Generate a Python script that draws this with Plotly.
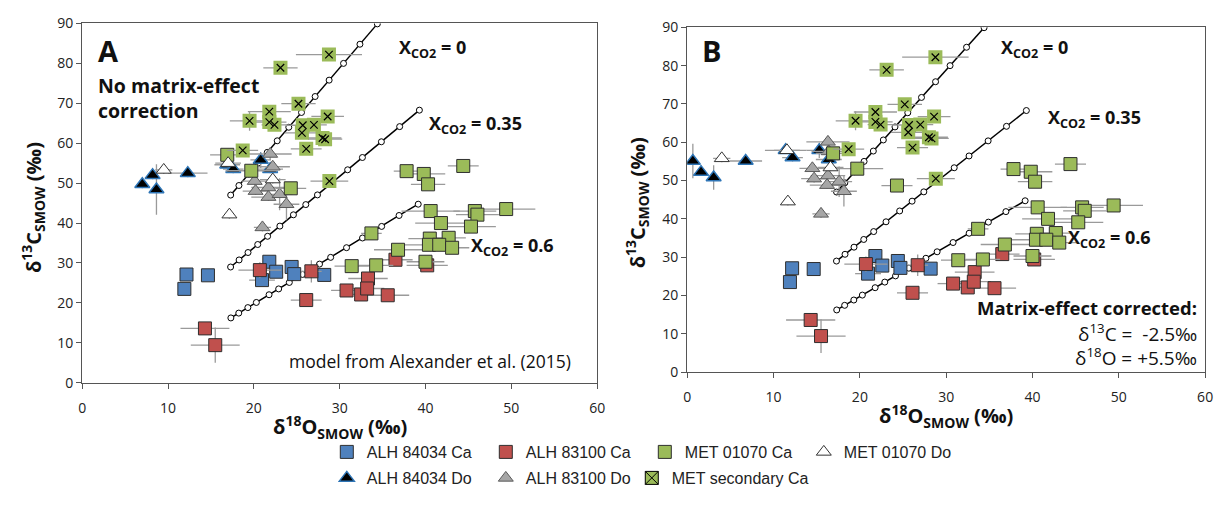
import plotly.graph_objects as go

W, H = 1225, 513

# ---------------- model curves (Alexander et al. 2015) ----------------
m0_x = [17.3, 18.26, 19.41, 20.49, 21.56, 22.72, 24.07, 25.55, 27.14, 28.77, 30.45, 32.36, 34.39]
m0_y = [47.0, 49.4, 52.3, 55.0, 57.7, 60.6, 64.0, 67.7, 71.7, 75.8, 80.0, 84.8, 89.9]
m35_x = [17.29, 18.28, 19.32, 20.45, 21.60, 23.03, 24.61, 26.05, 27.41, 29.13, 30.93, 32.65, 34.86, 36.99, 39.29]
m35_y = [28.98, 30.75, 32.61, 34.62, 36.68, 39.23, 42.06, 44.62, 47.05, 50.12, 53.34, 56.42, 60.36, 64.16, 68.28]
m60_x = [17.32, 18.24, 19.30, 20.29, 21.77, 22.89, 24.13, 25.67, 27.65, 28.95, 30.80, 32.66, 34.89, 36.92, 39.15]
m60_y = [16.22, 17.43, 18.81, 20.10, 22.03, 23.49, 25.11, 27.12, 29.71, 31.40, 33.82, 36.25, 39.15, 41.89, 44.72]

# ---------------- calcite (same in both panels) ----------------
alh84_ca_x = [11.9, 12.15, 14.65, 20.95, 21.8, 22.6, 24.4, 24.7, 28.2]
alh84_ca_y = [23.5, 27.1, 26.9, 25.7, 30.3, 27.8, 29.0, 27.2, 27.0]
alh84_ca_ex = [0.4, 0.4, 0.4, 1.5, 0.5, 0.5, 0.5, 0.5, 0.5]
alh84_ca_ey = [0.5, 0.5, 0.5, 1.0, 0.5, 0.5, 0.5, 0.5, 0.5]

alh83_ca_x = [14.3, 15.5, 20.7, 26.7, 26.1, 30.8, 32.5, 33.3, 33.2, 35.6, 36.5, 40.2]
alh83_ca_y = [13.6, 9.4, 28.2, 27.9, 20.7, 23.1, 22.1, 26.1, 23.6, 21.9, 30.8, 29.4]
alh83_ca_ex = [2.85, 2.85, 2.5, 1.2, 1.8, 1.8, 1.5, 2.3, 2.0, 2.5, 2.0, 2.4]
alh83_ca_ey = [1.0, 4.4, 2.0, 2.8, 1.2, 1.0, 1.0, 1.0, 1.0, 1.0, 1.0, 1.0]

met_ca_x = [16.9, 19.7, 24.3, 37.8, 39.8, 40.3, 44.4, 40.6, 45.75, 46.05, 49.4, 41.8,
            45.3, 33.7, 40.5, 42.7, 40.4, 41.6, 43.1, 36.8, 31.4, 34.25, 40.0]
met_ca_y = [57.1, 53.1, 48.7, 53.0, 52.3, 49.7, 54.3, 43.0, 43.0, 42.1, 43.5, 40.0,
            39.1, 37.4, 36.1, 36.3, 34.55, 34.55, 33.8, 33.3, 29.2, 29.4, 30.3]
met_ca_ex = [2.0, 3.0, 1.8, 1.5, 2.5, 2.0, 1.8, 3.4, 2.5, 2.5, 3.4, 3.0,
             2.9, 1.2, 2.5, 2.0, 3.0, 2.0, 2.0, 2.8, 2.0, 2.0, 2.2]
met_ca_ey = [1.0, 1.0, 1.0, 1.0, 1.0, 1.0, 1.0, 1.0, 1.0, 1.0, 1.0, 1.0,
             1.0, 1.0, 1.0, 1.0, 1.0, 1.0, 1.0, 1.0, 1.0, 1.0, 1.0]

met_sec_x = [28.75, 23.1, 25.2, 21.8, 19.5, 21.8, 22.4, 28.6, 25.7, 27.0, 25.6, 28.0, 28.3, 26.1, 18.7, 28.8]
met_sec_y = [82.2, 78.9, 69.9, 67.9, 65.6, 65.3, 64.6, 66.7, 64.5, 64.6, 62.6, 61.3, 61.0, 58.6, 58.2, 50.5]
met_sec_ex = [3.85, 2.0, 2.0, 2.5, 2.3, 2.0, 1.5, 1.9, 2.0, 1.5, 2.0, 2.2, 2.0, 1.8, 1.8, 2.2]
met_sec_ey = [1.0, 1.5, 1.5, 1.5, 2.5, 1.0, 1.0, 1.0, 1.0, 1.0, 1.0, 1.0, 1.0, 1.0, 1.0, 1.0]

# ---------------- dolomite, panel A (no correction) ----------------
alh84_do_x_A = [7.0, 8.2, 8.65, 12.3, 16.9, 17.6, 20.8, 21.9]
alh84_do_y_A = [49.7, 52.0, 48.4, 52.5, 54.6, 53.5, 55.8, 53.5]
alh84_do_ex_A = [0.5, 0.5, 0.5, 2.3, 1.5, 1.2, 1.2, 1.5]
alh84_do_ey_A = [1.0, 1.0, 6.3, 1.0, 1.0, 1.0, 2.0, 1.0]

alh83_do_x_A = [21.9, 22.2, 20.1, 20.2, 21.7, 21.7, 23.0, 23.8, 21.0]
alh83_do_y_A = [57.3, 54.1, 50.5, 48.0, 48.9, 46.5, 47.2, 44.7, 38.9]
alh83_do_ex = [2.5, 2.0, 1.5, 1.5, 2.0, 2.0, 1.5, 1.5, 1.0]
alh83_do_ey = [1.5, 1.0, 1.0, 1.0, 1.0, 1.0, 4.0, 4.0, 1.0]

met_do_x_A = [9.5, 17.0, 17.15, 22.2]
met_do_y_A = [53.3, 55.0, 42.1, 50.9]
met_do_ex = [1.0, 1.5, 0.5, 1.5]
met_do_ey = [1.0, 1.0, 1.0, 1.0]

# ---------------- dolomite, panel B (matrix-effect corrected) ----------------
alh84_do_x_B = [0.65, 1.6, 3.06, 6.77, 11.4, 12.2, 15.3, 16.4]
alh84_do_y_B = [55.1, 52.2, 50.8, 55.1, 57.9, 56.0, 57.9, 55.5]
alh84_do_ex_B = [0.5, 0.5, 0.5, 1.9, 2.4, 1.2, 1.5, 1.5]
alh84_do_ey_B = [4.5, 1.0, 3.2, 1.0, 1.0, 1.0, 2.0, 1.0]

alh83_do_x_B = [16.3, 16.4, 14.5, 14.7, 16.3, 16.2, 17.6, 18.15, 15.5]
alh83_do_y_B = [60.1, 57.6, 53.2, 50.5, 51.3, 48.8, 49.7, 47.2, 41.3]

met_do_x_B = [4.0, 11.55, 11.66, 16.6]
met_do_y_B = [55.8, 57.9, 44.5, 53.4]

x_ticks = [0, 10, 20, 30, 40, 50, 60]
y_ticks = [0, 10, 20, 30, 40, 50, 60, 70, 80, 90]

# ---------------- styling ----------------
BLUE, RED, GREEN, GRAY = "#4F81BD", "#C0504D", "#9BBB59", "#A6A6A6"
EDGE = "#2e2e2e"
ERRC = "#9a9a9a"
FONT = "Open Sans"

fig = go.Figure()


def err(arr):
    return dict(type="data", array=arr, color=ERRC, thickness=1.3, width=0)


def add_model(xa, ya):
    for mx, my in [(m0_x, m0_y), (m35_x, m35_y), (m60_x, m60_y)]:
        fig.add_trace(go.Scatter(x=mx, y=my, xaxis=xa, yaxis=ya, mode="lines+markers",
                                 line=dict(color="black", width=1.5),
                                 marker=dict(symbol="circle", size=6, color="white",
                                             line=dict(color="black", width=1)),
                                 showlegend=False, hoverinfo="skip"))


def add_panel(xa, ya, do84x, do84y, do84ex, do84ey, do83x, do83y, dometx, domety, show):
    add_model(xa, ya)
    fig.add_trace(go.Scatter(x=alh84_ca_x, y=alh84_ca_y, xaxis=xa, yaxis=ya, mode="markers",
                             name="ALH 84034 Ca", legend="legend", legendrank=1, showlegend=show,
                             error_x=err(alh84_ca_ex), error_y=err(alh84_ca_ey),
                             marker=dict(symbol="square", size=13, color=BLUE, line=dict(color=EDGE, width=1))))
    fig.add_trace(go.Scatter(x=alh83_ca_x, y=alh83_ca_y, xaxis=xa, yaxis=ya, mode="markers",
                             name="ALH 83100 Ca", legend="legend", legendrank=2, showlegend=show,
                             error_x=err(alh83_ca_ex), error_y=err(alh83_ca_ey),
                             marker=dict(symbol="square", size=13, color=RED, line=dict(color=EDGE, width=1))))
    fig.add_trace(go.Scatter(x=do84x, y=do84y, xaxis=xa, yaxis=ya, mode="markers",
                             name="ALH 84034 Do", legend="legend2", legendrank=5, showlegend=show,
                             error_x=err(do84ex), error_y=err(do84ey),
                             marker=dict(symbol="triangle-up", size=13, color="black",
                                         line=dict(color="#2E75B6", width=1.5))))
    fig.add_trace(go.Scatter(x=do83x, y=do83y, xaxis=xa, yaxis=ya, mode="markers",
                             name="ALH 83100 Do", legend="legend2", legendrank=6, showlegend=show,
                             error_x=err(alh83_do_ex), error_y=err(alh83_do_ey),
                             marker=dict(symbol="triangle-up", size=13, color=GRAY,
                                         line=dict(color="#5a5a5a", width=1))))
    fig.add_trace(go.Scatter(x=met_ca_x, y=met_ca_y, xaxis=xa, yaxis=ya, mode="markers",
                             name="MET 01070 Ca", legend="legend", legendrank=3, showlegend=show,
                             error_x=err(met_ca_ex), error_y=err(met_ca_ey),
                             marker=dict(symbol="square", size=13, color=GREEN, line=dict(color=EDGE, width=1))))
    fig.add_trace(go.Scatter(x=met_sec_x, y=met_sec_y, xaxis=xa, yaxis=ya, mode="markers",
                             showlegend=False, hoverinfo="skip",
                             error_x=err(met_sec_ex), error_y=err(met_sec_ey),
                             marker=dict(symbol="square", size=14, color=GREEN, line=dict(width=0))))
    fig.add_trace(go.Scatter(x=met_sec_x, y=met_sec_y, xaxis=xa, yaxis=ya, mode="markers",
                             showlegend=False,
                             marker=dict(symbol="x-thin-open", size=7.5, color="black",
                                         line=dict(color="black", width=1.2))))
    fig.add_trace(go.Scatter(x=dometx, y=domety, xaxis=xa, yaxis=ya, mode="markers",
                             name="MET 01070 Do", legend="legend", legendrank=4, showlegend=show,
                             error_x=err(met_do_ex), error_y=err(met_do_ey),
                             marker=dict(symbol="triangle-up", size=13, color="white",
                                         line=dict(color="#333333", width=1))))


add_panel("x", "y", alh84_do_x_A, alh84_do_y_A, alh84_do_ex_A, alh84_do_ey_A,
          alh83_do_x_A, alh83_do_y_A, met_do_x_A, met_do_y_A, True)
add_panel("x2", "y2", alh84_do_x_B, alh84_do_y_B, alh84_do_ex_B, alh84_do_ey_B,
          alh83_do_x_B, alh83_do_y_B, met_do_x_B, met_do_y_B, False)

fig.add_trace(go.Scatter(x=[None], y=[None], mode="markers", name="MET secondary Ca",
                         legend="legend3",
                         marker=dict(symbol="square-x", size=13, color=GREEN,
                                     line=dict(color="black", width=1))))


def px(x):
    return x / W


def py(y):
    return 1 - y / H


axis_common = dict(showgrid=False, zeroline=False, showline=True, mirror=True,
                   linecolor="#555555", linewidth=1.2, ticks="outside", ticklen=5,
                   tickcolor="#555555", tickfont=dict(family=FONT, size=14, color="#222"))

leg_common = dict(orientation="h", xanchor="left", yanchor="middle",
                  entrywidth=114, entrywidthmode="pixels", traceorder="normal",
                  font=dict(family="Liberation Sans", size=16, color="#222"),
                  bgcolor="rgba(0,0,0,0)", itemwidth=30, tracegroupgap=0)

leg3 = dict(leg_common)
leg3.pop("entrywidth")
leg3.pop("entrywidthmode")

fig.update_layout(
    width=W, height=H, margin=dict(l=0, r=0, t=0, b=0),
    paper_bgcolor="white", plot_bgcolor="white",
    xaxis=dict(domain=[px(79), px(599)], range=[0, 60], tickvals=x_ticks, anchor="y",
               ticklabelstandoff=7, **axis_common),
    yaxis=dict(domain=[py(387), py(14)], range=[0, 90], tickvals=y_ticks, anchor="x", **axis_common),
    xaxis2=dict(domain=[px(690), px(1213)], range=[0, 60], tickvals=x_ticks, anchor="y2",
                ticklabelstandoff=7, **axis_common),
    yaxis2=dict(domain=[py(376), py(18)], range=[0, 90], tickvals=y_ticks, anchor="x2", **axis_common),
    legend=dict(x=px(326), y=py(459), **leg_common),
    legend2=dict(x=px(326), y=py(486), **leg_common),
    legend3=dict(x=px(634), y=py(486), **leg3),
    showlegend=True,
)

ann = []


def A(x, y, text, size, bold=False, xanchor="center", angle=0, family=FONT, color="#111", align="center"):
    ann.append(dict(x=px(x), y=py(y), xref="paper", yref="paper", text=text, showarrow=False,
                    xanchor=xanchor, yanchor="middle", textangle=angle, align=align,
                    font=dict(family=family, size=size, color=color,
                              weight="bold" if bold else "normal")))


ytitle = "δ<sup>13</sup>C<sub>SMOW</sub> (‰)"
xtitle = "δ<sup>18</sup>O<sub>SMOW</sub> (‰)"
A(30, 205, ytitle, 20, True, angle=-90)
A(639, 200, ytitle, 20, True, angle=-90)
A(339, 433, xtitle, 20, True)
A(951, 422, xtitle, 20, True)

A(93, 42, "A", 29, True, xanchor="left")
A(93, 91, "No matrix-effect<br>correction", 19.5, True, xanchor="left", align="left")
A(397, 40, "X<sub>CO2</sub> = 0", 18, True, xanchor="left")
A(427, 119, "X<sub>CO2</sub> = 0.35", 18, True, xanchor="left")
A(470, 246, "X<sub>CO2</sub> = 0.6", 18, True, xanchor="left")
A(575, 364, "model from Alexander et al. (2015)", 17.5, False, xanchor="right")

A(703, 42, "B", 29, True, xanchor="left")
A(1005, 40, "X<sub>CO2</sub> = 0", 18, True, xanchor="left")
A(1052, 113, "X<sub>CO2</sub> = 0.35", 18, True, xanchor="left")
A(1073, 237, "X<sub>CO2</sub> = 0.6", 18, True, xanchor="left")
A(1207, 309, "Matrix-effect corrected:", 18.5, True, xanchor="right", align="right")
A(1207, 335, "δ<sup>13</sup>C =  -2.5‰", 19, False, xanchor="right", align="right")
A(1207, 360, "δ<sup>18</sup>O = +5.5‰", 19, False, xanchor="right", align="right")

fig.update_layout(annotations=ann)
fig.write_html("out.html")
